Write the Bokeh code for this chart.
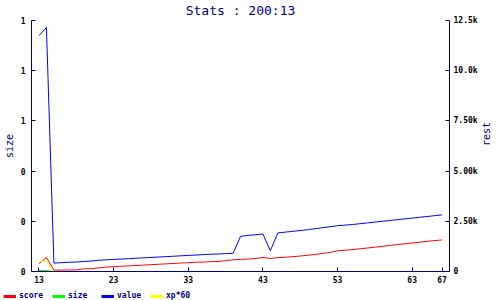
import math
from bokeh.plotting import figure
from bokeh.layouts import column
from bokeh.models import Range1d, LinearAxis, FixedTicker, NumeralTickFormatter, Legend, LegendItem
from bokeh.embed import file_html
from bokeh.resources import INLINE

# ---- data ----
x = list(range(13, 68))
score = [385, 700, 70, 70, 75, 80, 130, 140, 180, 220, 240, 260, 280, 300, 320, 340,
         360, 380, 400, 420, 440, 460, 470, 490, 500, 540, 580, 600, 620, 650, 700, 650,
         690, 710, 740, 770, 810, 850, 900, 950, 1030, 1060, 1090, 1130, 1170, 1210,
         1250, 1300, 1340, 1380, 1420, 1460, 1500, 1540, 1570]
size = [0.004, 0.004] + [0.0] * 53
value = [11750, 12150, 420, 440, 460, 470, 500, 520, 560, 580, 600, 620, 640, 660, 680,
         700, 720, 740, 760, 780, 800, 820, 840, 860, 870, 890, 900, 1750, 1800, 1830,
         1870, 1035, 1920, 1960, 2000, 2040, 2080, 2130, 2180, 2230, 2280, 2310, 2340,
         2380, 2420, 2460, 2500, 2540, 2580, 2620, 2660, 2700, 2740, 2780, 2820]
xp60 = [500, 500] + [0] * 53

x_ticks = [13, 23, 33, 43, 53, 63, 67]
left_ticks = [0, 0.2, 0.4, 0.6, 0.8, 1.0]
right_ticks = [0, 2500, 5000, 7500, 10000, 12500]
right_labels = ["0", "2.50k", "5.00k", "7.50k", "10.0k", "12.5k"]
series_names = ["score", "size", "value", "xp*60"]
series_colors = ["#ff0000", "#00ff00", "#0000ff", "#ffff00"]

NAVY = "#000080"
FONT = "DejaVu Sans Mono"

p = figure(width=500, height=288, x_range=Range1d(12, 68), y_range=Range1d(0, 1),
           output_backend="svg", toolbar_location=None,
           min_border_left=27, min_border_right=47, min_border_top=20, min_border_bottom=17)
p.frame_align = False
p.extra_y_ranges = {"rest": Range1d(0, 12500)}
p.outline_line_color = None
p.xgrid.visible = False
p.ygrid.visible = False

p.title.text = "Stats : 200:13"
p.title.align = "center"
p.title.vertical_align = "top"
p.title.text_font = FONT
p.title.text_font_size = "13px"
p.title.text_font_style = "normal"
p.title.text_color = NAVY
p.title.standoff = 2

right = LinearAxis(y_range_name="rest")
p.add_layout(right, "right")

for ax in [p.xaxis[0], p.yaxis[0], right]:
    ax.axis_line_color = NAVY
    ax.major_tick_line_color = NAVY
    ax.major_tick_in = 4
    ax.major_tick_out = 0
    ax.minor_tick_line_color = None
    ax.major_label_text_font = FONT
    ax.major_label_text_font_size = "8px"
    ax.major_label_text_font_style = "bold"
    ax.major_label_text_color = "black"
    ax.axis_label_text_font = FONT
    ax.axis_label_text_font_style = "normal"
    ax.axis_label_text_color = NAVY
    ax.axis_label_text_font_size = "10px"

p.xaxis[0].ticker = FixedTicker(ticks=x_ticks)
p.xaxis[0].major_label_standoff = 4
p.yaxis[0].ticker = FixedTicker(ticks=left_ticks)
p.yaxis[0].formatter = NumeralTickFormatter(format="0")
p.yaxis[0].axis_label = "size"
p.yaxis[0].major_label_standoff = 6
p.yaxis[0].axis_label_standoff = 3
right.ticker = FixedTicker(ticks=right_ticks)
right.major_label_overrides = dict(zip(right_ticks, right_labels))
right.axis_label = "rest"
right.axis_label_orientation = math.pi / 2
right.major_label_standoff = 4
right.axis_label_standoff = 6

p.line(x, score, color=series_colors[0], line_width=1, y_range_name="rest")
p.line(x, size, color=series_colors[1], line_width=1)
p.line(x, value, color=series_colors[2], line_width=1, y_range_name="rest")
p.line(x, xp60, color=series_colors[3], line_width=1, y_range_name="rest")

# ---- legend strip below the chart ----
lf = figure(width=500, height=12, x_range=Range1d(0, 1), y_range=Range1d(0, 1),
            x_axis_type=None, y_axis_type=None, output_backend="svg",
            toolbar_location=None, min_border=0)
lf.frame_align = False
lf.outline_line_color = None
lf.grid.visible = False

items = []
for name, col in zip(series_names, series_colors):
    swatch = lf.line([-1], [-1], color=col, line_width=3)
    items.append(LegendItem(label=name, renderers=[swatch]))

legend = Legend(items=items, orientation="horizontal", location=(3, 0),
                padding=0, margin=0, spacing=0, glyph_width=13, glyph_height=8,
                label_height=8, label_width=33, label_standoff=3,
                label_text_font=FONT, label_text_font_size="8px",
                label_text_font_style="bold", label_text_color=NAVY,
                border_line_color=None, background_fill_alpha=0)
lf.add_layout(legend, "center")

layout = column(p, lf, spacing=0)
open("out.html", "w").write(file_html(layout, INLINE))
